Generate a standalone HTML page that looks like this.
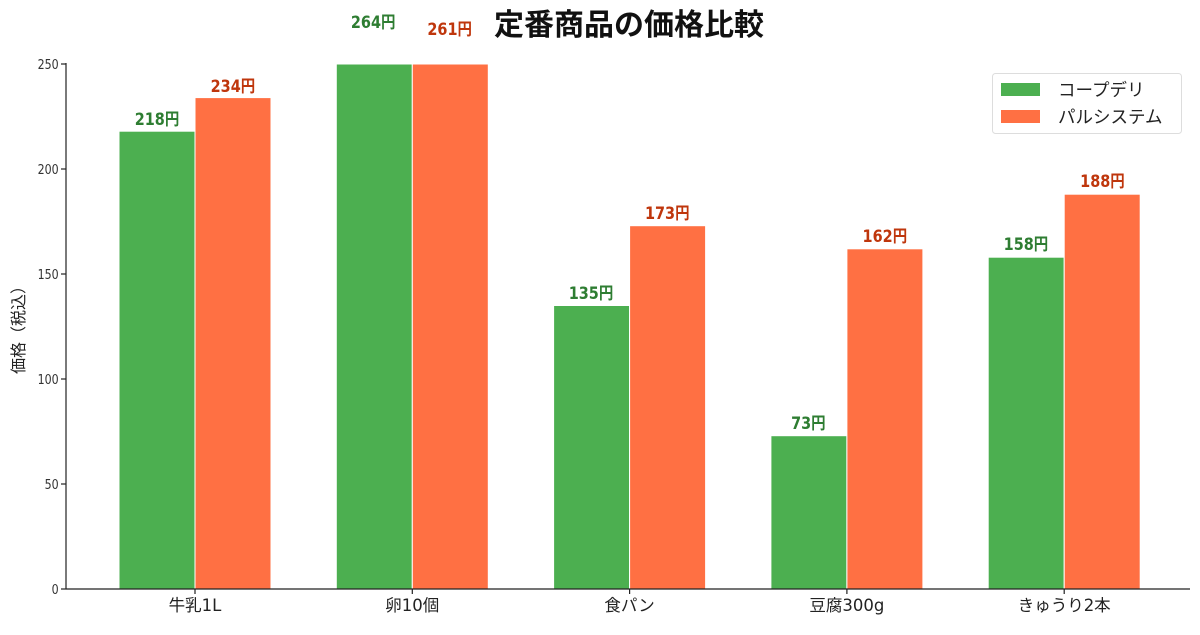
<!DOCTYPE html>
<html><head><meta charset="utf-8"><style>
body{margin:0;background:#fff}
text{font-family:"DejaVu Sans","Noto Sans CJK JP",sans-serif}
.v{font-family:"DejaVu Sans","Noto Sans CJK JP",sans-serif;font-weight:bold;font-size:17px;text-anchor:middle}
.t{font-size:13px;text-anchor:end;fill:#333}
.x{font-family:"Noto Sans CJK JP",sans-serif;font-size:16.5px;text-anchor:middle;fill:#222}
</style></head><body>
<svg width="1200" height="630" xmlns="http://www.w3.org/2000/svg">
<rect width="1200" height="630" fill="#fff"/>
<text x="629" y="35" font-family="Noto Sans CJK JP,sans-serif" font-weight="bold" font-size="30" text-anchor="middle" fill="#111">定番商品の価格比較</text>
<g stroke="#fff" stroke-width="1">
<rect x="119" y="131.2" width="76" height="457.8" fill="#4CAF50"/>
<rect x="195" y="97.6" width="76" height="491.4" fill="#FF7043"/>
<rect x="336.3" y="64" width="76" height="525" fill="#4CAF50"/>
<rect x="412.3" y="64" width="76" height="525" fill="#FF7043"/>
<rect x="553.6" y="305.5" width="76" height="283.5" fill="#4CAF50"/>
<rect x="629.6" y="225.7" width="76" height="363.3" fill="#FF7043"/>
<rect x="770.9" y="435.7" width="76" height="153.3" fill="#4CAF50"/>
<rect x="846.9" y="248.8" width="76" height="340.2" fill="#FF7043"/>
<rect x="988.2" y="257.2" width="76" height="331.8" fill="#4CAF50"/>
<rect x="1064.2" y="194.2" width="76" height="394.8" fill="#FF7043"/>
</g>
<g class="v" transform="scale(0.85,1)">
<text x="184.7" y="125" fill="#2E7D32">218円</text>
<text x="274" y="92" fill="#BF360C">234円</text>
<text x="439" y="28" fill="#2E7D32">264円</text>
<text x="529" y="35" fill="#BF360C">261円</text>
<text x="695.3" y="299" fill="#2E7D32">135円</text>
<text x="785" y="219" fill="#BF360C">173円</text>
<text x="951" y="429" fill="#2E7D32">73円</text>
<text x="1041" y="242" fill="#BF360C">162円</text>
<text x="1207" y="250" fill="#2E7D32">158円</text>
<text x="1297" y="187" fill="#BF360C">188円</text>
</g>
<g stroke="#222" stroke-width="1.2">
<line x1="66" y1="63" x2="66" y2="589"/>
<line x1="66" y1="589" x2="1190" y2="589"/>
<line x1="61" y1="589" x2="66" y2="589"/><line x1="61" y1="484" x2="66" y2="484"/>
<line x1="61" y1="379" x2="66" y2="379"/><line x1="61" y1="274" x2="66" y2="274"/>
<line x1="61" y1="169" x2="66" y2="169"/><line x1="61" y1="64" x2="66" y2="64"/>
<line x1="195" y1="589" x2="195" y2="594"/><line x1="412.3" y1="589" x2="412.3" y2="594"/>
<line x1="629.6" y1="589" x2="629.6" y2="594"/><line x1="846.9" y1="589" x2="846.9" y2="594"/>
<line x1="1064.2" y1="589" x2="1064.2" y2="594"/>
</g>
<g class="t" transform="scale(0.85,1)">
<text x="69" y="594">0</text><text x="69" y="489">50</text><text x="69" y="384">100</text>
<text x="69" y="279">150</text><text x="69" y="174">200</text><text x="69" y="69">250</text>
</g>
<g class="x">
<text x="195" y="611">牛乳1L</text><text x="412.3" y="611">卵10個</text>
<text x="629.6" y="611">食パン</text><text x="846.9" y="611">豆腐300g</text>
<text x="1064.2" y="611">きゅうり2本</text>
</g>
<text transform="translate(24,326) rotate(-90)" font-family="Noto Sans CJK JP,sans-serif" font-size="16" text-anchor="middle" fill="#222">価格（税込）</text>
<rect x="992.5" y="73.5" width="189" height="60" rx="3" fill="#fff" stroke="#ddd"/>
<rect x="1001" y="83" width="39" height="13" fill="#4CAF50"/>
<rect x="1001" y="110" width="39" height="13" fill="#FF7043"/>
<text x="1058" y="96" font-family="Noto Sans CJK JP,sans-serif" font-size="17.5" fill="#222">コープデリ</text>
<text x="1058" y="123" font-family="Noto Sans CJK JP,sans-serif" font-size="17.5" fill="#222">パルシステム</text>
</svg>
</body></html>
